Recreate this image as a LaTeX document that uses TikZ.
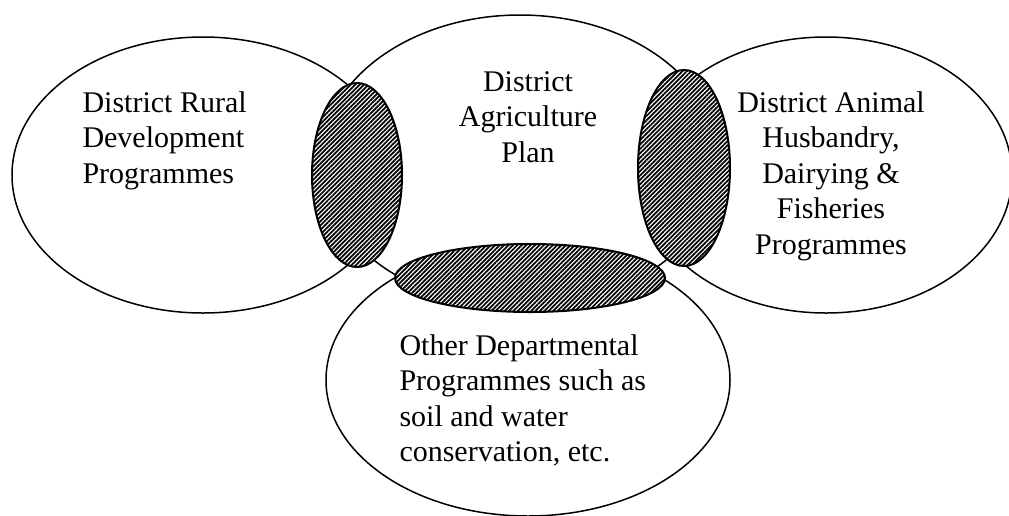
\documentclass[tikz,border=0pt]{standalone}
\usepackage{fontspec}
\setmainfont{Liberation Serif}
\usetikzlibrary{shapes.geometric,patterns.meta}

\tikzset{
  blob/.style 2 args = {ellipse, draw, line width=0.6pt, inner sep=0pt,
    minimum width=#1*0.8pt, minimum height=#2*0.8pt},
  overlap/.style 2 args = {blob={#1}{#2}, line width=0.8pt, preaction={fill=white},
    pattern={Lines[angle=45, distance=1.25pt, line width=0.7pt]}},
  label/.style = {inner sep=0pt, font=\fontsize{12}{14.2}\selectfont}
}

\begin{document}
\begin{tikzpicture}[x=0.4pt, y=-0.4pt]
        \useasboundingbox (0, 0) rectangle (1009, 515);
        %big ellipses
        \node[blob={191}{138}] (rural) at (203, 175) {};
        \node[blob={199}{146}] (agri) at (520, 161) {};
        \node[blob={186}{138}] (animal) at (826, 175) {};
        \node[blob={202}{136}] (other) at (528, 380) {};
        %overlaps
        \node[overlap={45}{92}] (ra) at (357, 175) {};
        \node[overlap={46}{98}] (aa) at (684, 168) {};
        \node[overlap={135}{34}] (ao) at (530, 278) {};
        %texts
        \begin{scope}[every node/.style = {label}]
          \node[anchor = north west, align = left] (ruraltext) at (82, 91)
            {District Rural\\Development\\Programmes};
          \node[anchor = north, align = center] (agritext) at (528, 71)
            {District\\Agriculture\\Plan};
          \node[anchor = north, align = center] (animaltext) at (831, 91)
            {District Animal\\Husbandry,\\Dairying \&\\Fisheries\\Programmes};
          \node[anchor = north west, align = left] (othertext) at (399, 334)
            {Other Departmental\\Programmes such as\\soil and water\\conservation, etc.};
        \end{scope}
      \end{tikzpicture}
\end{document}
